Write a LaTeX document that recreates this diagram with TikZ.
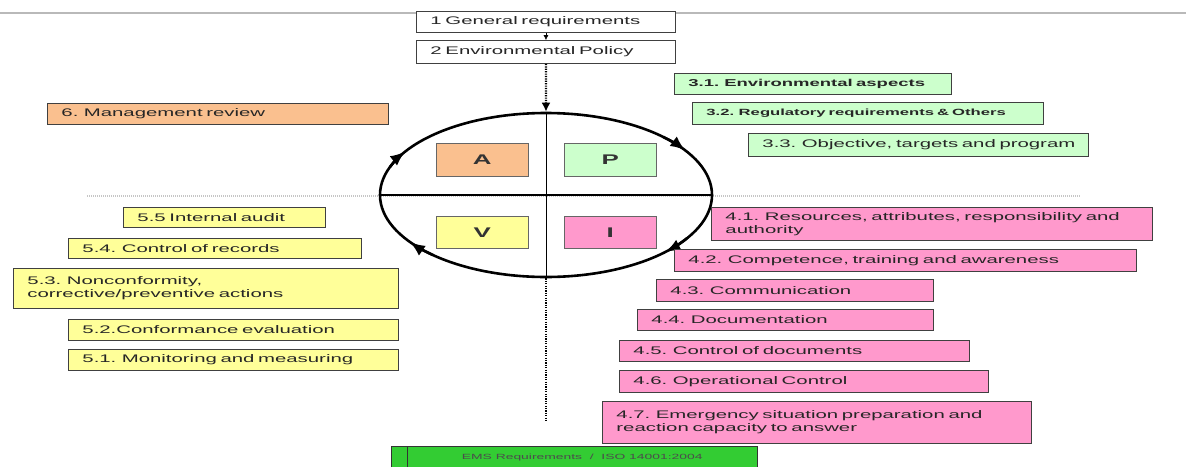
\documentclass[tikz,border=0pt]{standalone}
\usepackage{fontspec}
\setmainfont{Liberation Sans}[FakeStretch=1.85]
\usepackage{xcolor}
\usepackage{tikz}
\usetikzlibrary{shapes,arrows.meta,positioning,calc}

\definecolor{apricot}{HTML}{FAC08F}
\definecolor{mint}{HTML}{CCFFCC}
\definecolor{lemon}{HTML}{FFFF99}
\definecolor{rose}{HTML}{FF99CC}
\definecolor{emsgreen}{HTML}{33CC33}

\tikzset{
  req/.style={anchor=north west, draw=black!75, line width=0.9pt, inner xsep=14pt,
    inner ysep=1pt, align=left, text=black!85, font=\fontsize{11}{13}\selectfont},
  phase/.style={anchor=north west, draw=black!60, line width=0.6pt, minimum width=92pt,
    minimum height=33pt, text=black!80, font=\fontsize{14}{14}\selectfont\bfseries},
  dotline/.style={line width=2.4pt, dash pattern=on 1.2pt off 1.2pt},
  loopline/.style={line width=2.6pt}
}

\begin{document}
\begin{tikzpicture}[x=1pt,y=-1pt]
  \fill[white] (0,0) rectangle (1186,466);
  \useasboundingbox (0,0) rectangle (1186,466);

  % slide header rule and the dotted guide through the cycle
  \draw[gray!55, line width=2pt] (0,12.5) -- (1186,12.5);
  \draw[gray!45, line width=1.2pt, dash pattern=on 1pt off 1pt] (87,196) -- (1080,196);

  % General requirements and policy
  \node[req, fill=white, text width=231pt, minimum height=21pt] (gen) at (416,11) {1 General requirements};
  \node[req, fill=white, text width=231pt, minimum height=23pt] (pol) at (416,40) {2 Environmental Policy};
  \draw[-{Latex[length=5pt,width=5pt]}] (gen.south) -- (pol.north);

  % PDCA cycle
  \node[draw, ellipse, loopline, minimum width=332pt, minimum height=164pt] (pdca) at (546,195) {};
  \draw[line width=2.2pt] (pdca.west) -- (pdca.east);
  \draw[line width=0.8pt] (pdca.north) -- (pdca.south);
  \foreach \t in {44,145,212,327} {
    \draw[loopline,-{Latex[length=15pt,width=12pt]}] ($(pdca.center)+(\t-12:166 and 82)$)
      arc[start angle=\t-12, end angle=\t, x radius=166, y radius=82];
  }
  \draw[dotline,-{Latex[length=9pt,width=9pt]}] (pol.south) -- (pdca.north);
  \coordinate (tail) at (546,421);
  \draw[dotline] (pdca.south) -- (tail);

  \node[phase, fill=apricot] (act) at (436,143) {A};
  \node[phase, fill=mint] (plan) at (564,143) {P};
  \node[phase, fill=lemon, minimum height=32pt] (check) at (436,216) {V};
  \node[phase, fill=rose, minimum height=32pt] (impl) at (564,216) {I};

  % Act
  \node[req, fill=apricot, text width=313pt, minimum height=21pt] (mgmt) at (47,103) {6. Management review};

  % Plan
  \node[req, fill=mint, text width=249pt, minimum height=21pt, font=\fontsize{10}{12}\selectfont\bfseries] (asp) at (674,73) {3.1. Environmental aspects};
  \node[req, fill=mint, text width=323pt, minimum height=22pt, font=\fontsize{9}{11}\selectfont\bfseries] (regl) at (692,102) {3.2. Regulatory requirements \& Others};
  \node[req, fill=mint, text width=312pt, minimum height=23pt] (obj) at (748,133) {\mbox{3.3. Objective, targets and program}};

  % Check
  \node[req, fill=lemon, text width=174pt, minimum height=20pt] (audit) at (123,207) {5.5 Internal audit};
  \node[req, fill=lemon, text width=265pt, minimum height=20pt] (recs) at (68,238) {5.4. Control of records};
  \node[req, fill=lemon, text width=357pt, minimum height=40pt] (ncr) at (13,268) {5.3. Nonconformity,\\corrective/preventive actions};
  \node[req, fill=lemon, text width=302pt, minimum height=21pt] (conf) at (68,319) {5.2.Conformance evaluation};
  \node[req, fill=lemon, text width=302pt, minimum height=21pt] (mon) at (68,349) {5.1. Monitoring and measuring};

  % Implement
  \node[req, fill=rose, text width=413pt, minimum height=33pt] (res) at (711,207) {4.1. Resources, attributes, responsibility and\\authority};
  \node[req, fill=rose, text width=434pt, minimum height=22pt] (comp) at (674,249) {4.2. Competence, training and awareness};
  \node[req, fill=rose, text width=249pt, minimum height=22pt] (comm) at (656,279) {4.3. Communication};
  \node[req, fill=rose, text width=268pt, minimum height=21pt] (docu) at (637,309) {4.4. Documentation};
  \node[req, fill=rose, text width=322pt, minimum height=21pt] (ctrl) at (619,340) {4.5. Control of documents};
  \node[req, fill=rose, text width=341pt, minimum height=22pt] (oper) at (619,370) {4.6. Operational Control};
  \node[req, fill=rose, text width=401pt, minimum height=42pt] (emer) at (602,401) {4.7. Emergency situation preparation and\\reaction capacity to answer};

  % footer bar
  \node[anchor=north west, draw=black!80, fill=emsgreen, minimum width=16pt, minimum height=22pt, inner sep=0pt] (emstab) at (391,446) {};
  \node[anchor=north west, draw=black!80, fill=emsgreen, minimum width=350pt, minimum height=22pt, inner sep=0pt, text=black!70, font=\fontsize{7.5}{9}\selectfont] (ems) at (407,446) {EMS Requirements \ / \ ISO 14001:2004};
\end{tikzpicture}
\end{document}
